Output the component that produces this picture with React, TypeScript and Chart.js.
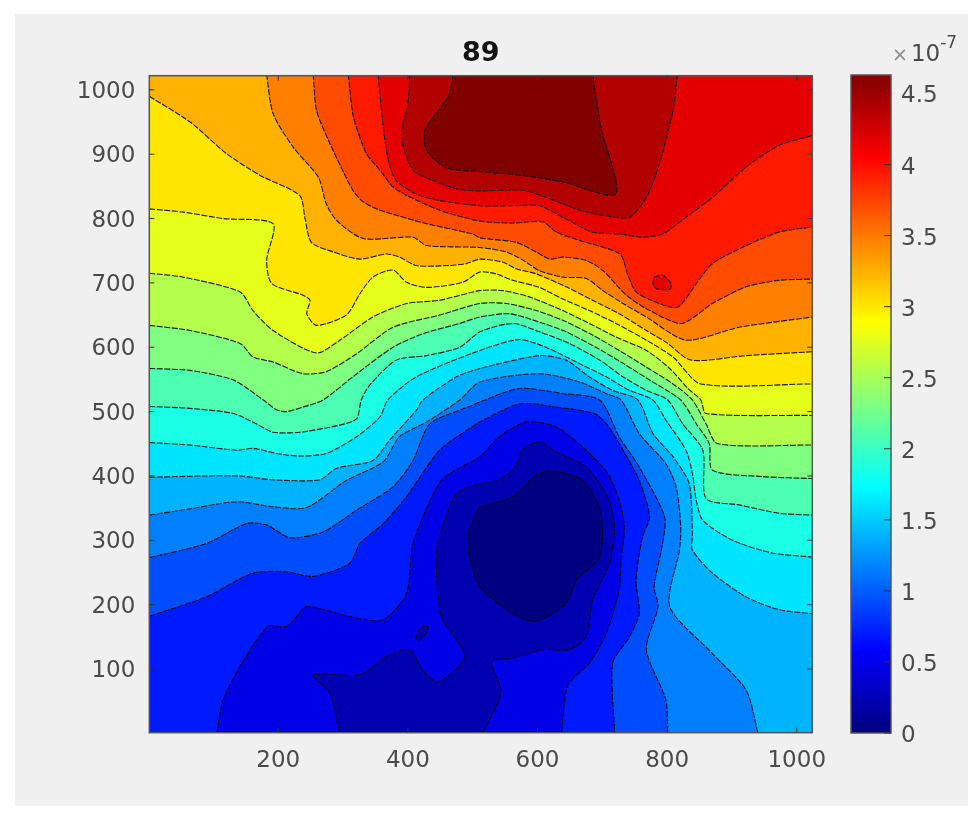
import React, { useEffect, useRef } from "react";
import { Chart, registerables } from "chart.js";

Chart.register(...registerables);

type Pt = [number, number];

const titleText = "89";
const xTicks = [200, 400, 600, 800, 1000];
const yTicks = [100, 200, 300, 400, 500, 600, 700, 800, 900, 1000];
const colorTicks = [0, 0.5, 1, 1.5, 2, 2.5, 3, 3.5, 4, 4.5];
const colorMax = 4.63;
const xRange: Pt = [1, 1024];
const yRange: Pt = [1, 1022];
const bandCount = 20;

const c1: Pt[] = [[511, 352], [493, 311], [495, 274], [511, 228], [562, 186], [598, 174], [644, 202], [660, 238], [696, 274], [698, 342], [670, 393], [624, 408], [598, 401], [562, 368], [511, 352]];
const c2: Pt[] = [[295, 1], [280, 62], [254, 91], [326, 91], [367, 119], [403, 130], [423, 98], [446, 80], [488, 119], [452, 181], [444, 249], [446, 295], [475, 373], [511, 388], [536, 393], [562, 409], [577, 440], [603, 453], [629, 437], [675, 414], [708, 368], [719, 321], [711, 264], [685, 207], [675, 150], [649, 130], [608, 130], [562, 117], [529, 111], [544, 65], [516, 1]];
const c2Island: Pt[] = [[431, 166], [421, 166], [412, 148], [418, 145], [430, 158], [431, 166]];
const c3: Pt[] = [[105, 1], [115, 52], [141, 104], [184, 166], [213, 166], [228, 181], [244, 197], [321, 179], [362, 176], [398, 217], [408, 295], [452, 393], [511, 430], [541, 461], [583, 484], [629, 476], [675, 440], [708, 404], [726, 362], [734, 321], [729, 269], [726, 223], [706, 155], [680, 109], [647, 75], [637, 1]];
const c4: Pt[] = [[1, 182], [89, 212], [161, 249], [213, 251], [254, 244], [310, 264], [326, 295], [362, 326], [398, 368], [449, 440], [506, 481], [511, 484], [572, 512], [629, 507], [688, 497], [708, 479], [732, 440], [757, 393], [773, 337], [762, 305], [752, 238], [757, 186], [742, 150], [716, 109], [719, 1]];
const c5: Pt[] = [[1, 273], [89, 295], [151, 326], [182, 324], [218, 304], [269, 313], [321, 347], [377, 383], [408, 424], [434, 481], [500, 510], [511, 515], [572, 536], [639, 528], [696, 518], [726, 461], [757, 414], [796, 337], [793, 295], [780, 228], [786, 197], [768, 130], [798, 52], [801, 1]];
const c6: Pt[] = [[1, 339], [64, 349], [136, 360], [192, 352], [244, 351], [305, 393], [362, 422], [387, 461], [429, 484], [480, 518], [511, 546], [603, 559], [665, 546], [706, 528], [729, 518], [757, 466], [798, 419], [814, 383], [821, 321], [819, 285], [804, 197], [870, 124], [922, 67], [940, 1]];
const c7: Pt[] = [[1, 398], [89, 400], [141, 400], [192, 394], [264, 394], [290, 412], [346, 424], [372, 456], [413, 502], [423, 518], [475, 554], [511, 567], [603, 587], [644, 580], [680, 554], [716, 533], [755, 518], [778, 466], [809, 430], [834, 388], [839, 311], [839, 285], [870, 249], [922, 212], [973, 192], [1024, 186]];
const c8: Pt[] = [[1, 452], [64, 448], [136, 440], [161, 443], [197, 435], [233, 431], [274, 435], [321, 461], [357, 492], [369, 518], [413, 554], [511, 595], [572, 612], [613, 600], [660, 577], [706, 554], [742, 533], [778, 518], [798, 487], [829, 440], [839, 404], [845, 362], [855, 331], [901, 300], [963, 280], [1024, 274]];
const c9: Pt[] = [[1, 508], [64, 505], [131, 497], [166, 481], [192, 468], [233, 468], [295, 479], [321, 489], [328, 518], [341, 541], [382, 580], [429, 587], [480, 600], [511, 624], [562, 637], [603, 624], [649, 606], [696, 580], [732, 554], [768, 533], [801, 518], [824, 481], [855, 440], [860, 365], [911, 355], [973, 342], [1024, 339]];
const c10: Pt[] = [[1, 567], [64, 564], [131, 549], [177, 518], [197, 503], [213, 500], [238, 507], [269, 518], [315, 554], [377, 600], [423, 621], [480, 637], [511, 647], [557, 652], [603, 639], [644, 624], [690, 600], [732, 575], [773, 549], [821, 518], [845, 481], [865, 450], [870, 409], [947, 399], [1024, 396]];
const c11: Pt[] = [[1, 634], [64, 626], [141, 606], [161, 585], [192, 577], [238, 559], [274, 562], [321, 590], [377, 631], [449, 650], [511, 668], [552, 668], [598, 657], [639, 642], [685, 619], [726, 595], [768, 569], [809, 543], [839, 518], [860, 481], [878, 450], [1024, 448]];
const c12: Pt[] = [[1, 715], [53, 709], [141, 686], [161, 657], [192, 626], [259, 591], [295, 611], [346, 647], [398, 668], [449, 673], [511, 688], [547, 688], [588, 678], [639, 657], [680, 637], [721, 616], [768, 595], [804, 567], [832, 536], [852, 518], [860, 497], [1024, 494]];
const c13: Pt[] = [[1, 815], [53, 810], [115, 800], [192, 792], [182, 735], [190, 699], [238, 681], [249, 673], [244, 652], [259, 634], [305, 650], [326, 683], [346, 709], [377, 720], [398, 701], [429, 693], [485, 701], [511, 717], [536, 714], [562, 704], [603, 693], [639, 675], [680, 657], [721, 637], [768, 611], [809, 585], [852, 543], [1024, 543]];
const c14: Pt[] = [[1, 990], [64, 950], [120, 901], [172, 867], [233, 836], [241, 802], [251, 763], [285, 748], [326, 737], [367, 745], [387, 740], [413, 727], [464, 727], [490, 730], [511, 737], [547, 732], [567, 722], [598, 714], [644, 694], [685, 673], [726, 652], [768, 626], [798, 608], [837, 580], [922, 587], [1024, 593]];
const c15: Pt[] = [[182, 1024], [192, 963], [223, 911], [262, 864], [274, 823], [290, 797], [331, 769], [408, 771], [429, 758], [511, 755], [552, 748], [578, 735], [603, 719], [639, 709], [675, 707], [701, 688], [732, 668], [768, 647], [829, 611], [911, 631], [1024, 647]];
const c16: Pt[] = [[254, 1024], [259, 968], [280, 916], [315, 844], [331, 826], [357, 813], [429, 792], [500, 776], [511, 770], [567, 763], [598, 748], [619, 737], [639, 740], [675, 735], [701, 719], [737, 681], [768, 660], [822, 637], [870, 668], [922, 694], [973, 704], [1024, 706]];
const c17: Pt[] = [[308, 1024], [316, 958], [336, 901], [357, 875], [377, 849], [398, 836], [449, 813], [511, 796], [562, 793], [608, 795], [629, 779], [665, 766], [727, 745], [739, 714], [752, 686], [783, 670], [816, 662], [845, 699], [870, 730], [922, 758], [973, 779], [1024, 787]];
const c18: Pt[] = [[354, 1024], [362, 942], [370, 890], [382, 859], [413, 838], [449, 828], [511, 820], [562, 820], [603, 820], [639, 802], [685, 779], [727, 776], [762, 771], [793, 776], [829, 802], [870, 833], [922, 880], [973, 914], [1024, 929]];
const c18Island: Pt[] = [[780, 709], [793, 712], [806, 699], [804, 690], [783, 691], [778, 699], [780, 709]];
const c19: Pt[] = [[403, 1024], [400, 978], [390, 937], [393, 911], [408, 875], [439, 859], [475, 846], [511, 843], [578, 844], [613, 833], [665, 813], [701, 805], [742, 802], [768, 833], [788, 885], [809, 968], [816, 1024]];
const c20: Pt[] = [[470, 1024], [462, 989], [426, 937], [429, 906], [459, 879], [511, 873], [578, 867], [639, 857], [721, 838], [698, 942], [685, 1024]];

const [xMin, xMax] = xRange;
const [yMin, yMax] = yRange;
const topRight: Pt = [xMax, yMax + 5];
const topLeft: Pt = [xMin, yMax + 5];
const bottomRight: Pt = [xMax, yMin];

// Painter's order: highs over the base band, then the nested lows.
const layers: { line: Pt[]; band: number; corners: Pt[] }[] = [
  { line: c4, band: 4, corners: [bottomRight, topRight, topLeft] },
  { line: c5, band: 5, corners: [bottomRight, topRight, topLeft] },
  { line: c6, band: 6, corners: [bottomRight, topRight, topLeft] },
  { line: c7, band: 7, corners: [topRight, topLeft] },
  { line: c8, band: 8, corners: [topRight, topLeft] },
  { line: c9, band: 9, corners: [topRight, topLeft] },
  { line: c10, band: 10, corners: [topRight, topLeft] },
  { line: c11, band: 11, corners: [topRight, topLeft] },
  { line: c12, band: 12, corners: [topRight, topLeft] },
  { line: c13, band: 13, corners: [topRight, topLeft] },
  { line: c14, band: 14, corners: [topRight, topLeft] },
  { line: c15, band: 15, corners: [topRight] },
  { line: c16, band: 16, corners: [topRight] },
  { line: c17, band: 17, corners: [topRight] },
  { line: c18, band: 18, corners: [topRight] },
  { line: c18Island, band: 18, corners: [] },
  { line: c19, band: 19, corners: [] },
  { line: c20, band: 20, corners: [] },
  { line: c3, band: 2, corners: [] },
  { line: c2, band: 1, corners: [] },
  { line: c2Island, band: 1, corners: [] },
  { line: c1, band: 0, corners: [] },
];
const baseBand = 3;

function jetChannel(t: number, centre: number) {
  const v = 1.5 - Math.abs(4 * t - centre);
  return Math.round(255 * Math.max(0, Math.min(1, v)));
}
function jet(t: number) {
  return `rgb(${jetChannel(t, 3)},${jetChannel(t, 2)},${jetChannel(t, 1)})`;
}

const FONT = "'DejaVu Sans'";
const TEXT = "#4a4a4a";
const FRAME = "#565656";
const TICK_FONT = 23;

function nudgeLabels(s: any, dy: number) {
  if (s.__nudged) return;
  s.__nudged = true;
  const draw = s.drawLabels.bind(s);
  s.drawLabels = (area: any) => {
    s.ctx.save();
    s.ctx.translate(0, dy);
    draw(area);
    s.ctx.restore();
  };
}

const contourFill = {
  id: "contourFill",
  beforeDatasetsDraw(chart: any) {
    const { ctx, chartArea: a } = chart;
    ctx.save();
    ctx.fillStyle = jet(baseBand / bandCount);
    ctx.fillRect(a.left, a.top, a.right - a.left, a.bottom - a.top);
    ctx.restore();
  },
  beforeDatasetDraw(chart: any, args: any) {
    const { ctx, chartArea: a, scales } = chart;
    const ds = chart.data.datasets[args.index];
    const pts = args.meta.data;
    ctx.save();
    ctx.beginPath();
    ctx.rect(a.left, a.top, a.right - a.left, a.bottom - a.top);
    ctx.clip();
    ctx.beginPath();
    pts.forEach((p: any, i: number) => {
      if (!i) ctx.moveTo(p.x, p.y);
      else {
        const q = pts[i - 1];
        ctx.bezierCurveTo(q.cp2x, q.cp2y, p.cp1x, p.cp1y, p.x, p.y);
      }
    });
    ds.corners.forEach((c: Pt) => ctx.lineTo(scales.x.getPixelForValue(c[0]), scales.y.getPixelForValue(c[1])));
    ctx.closePath();
    ctx.fillStyle = ds.fillColor;
    ctx.fill();
    ctx.restore();
  },
};

const plotFrame = {
  id: "plotFrame",
  afterDatasetsDraw(chart: any) {
    const { ctx, chartArea: a, scales } = chart;
    ctx.save();
    ctx.strokeStyle = FRAME;
    ctx.lineWidth = 1.5;
    ctx.strokeRect(a.left, a.top, a.right - a.left, a.bottom - a.top);
    ctx.lineWidth = 1;
    ctx.strokeStyle = "#333";
    ctx.beginPath();
    const len = 5;
    xTicks.forEach((v) => {
      const x = scales.x.getPixelForValue(v);
      ctx.moveTo(x, a.bottom);
      ctx.lineTo(x, a.bottom - len);
      ctx.moveTo(x, a.top);
      ctx.lineTo(x, a.top + len);
    });
    yTicks.forEach((v) => {
      const y = scales.y.getPixelForValue(v);
      ctx.moveTo(a.left, y);
      ctx.lineTo(a.left + len, y);
      ctx.moveTo(a.right, y);
      ctx.lineTo(a.right - len, y);
    });
    ctx.stroke();
    ctx.restore();
  },
};

const colorFrame = {
  id: "colorFrame",
  afterDatasetsDraw(chart: any) {
    const { ctx, chartArea: a, scales } = chart;
    ctx.save();
    ctx.strokeStyle = FRAME;
    ctx.lineWidth = 1.5;
    ctx.strokeRect(a.left, a.top, a.right - a.left, a.bottom - a.top);
    ctx.lineWidth = 1;
    ctx.strokeStyle = "#333";
    ctx.beginPath();
    colorTicks.forEach((v) => {
      const y = scales.y.getPixelForValue(v);
      ctx.moveTo(a.right, y);
      ctx.lineTo(a.right - 7, y);
    });
    ctx.stroke();
    ctx.restore();
  },
};

export default function App() {
  const mainRef = useRef<HTMLCanvasElement>(null);
  const barRef = useRef<HTMLCanvasElement>(null);

  useEffect(() => {
    const main = new Chart(mainRef.current!, {
      type: "scatter",
      data: {
        datasets: layers.map((l, i) => ({
          label: `band ${l.band}`,
          data: l.line.map(([x, y]) => ({ x, y })),
          showLine: true,
          tension: 0.25,
          pointRadius: 0,
          borderColor: "rgba(0,0,0,0.9)",
          borderWidth: 1.1,
          borderDash: [6, 1.5],
          fill: false,
          order: layers.length - i,
          fillColor: jet(l.band / bandCount),
          corners: l.corners,
        })) as any,
      },
      options: {
        animation: false,
        responsive: false,
        events: [],
        layout: { padding: { left: 69.3, right: 159.7, top: 40, bottom: 41.3 } },
        plugins: {
          legend: { display: false },
          tooltip: { enabled: false },
          title: {
            display: true,
            text: titleText,
            fullSize: false,
            color: "#141414",
            font: { family: FONT, size: 27, weight: "bold", lineHeight: 1 },
            padding: { top: 0, bottom: 8.7 },
          },
        },
        scales: {
          x: {
            type: "linear",
            min: xMin,
            max: xMax,
            grid: { display: false },
            border: { display: false },
            afterBuildTicks: (s: any) => {
              s.ticks = xTicks.map((value) => ({ value }));
            },
            afterFit: (s: any) => {
              s.height = 50;
            },
            ticks: { color: TEXT, font: { family: FONT, size: TICK_FONT }, padding: 7, maxRotation: 0, autoSkip: false, callback: (v: any) => String(v) },
          },
          y: {
            type: "linear",
            min: yMin,
            max: yMax,
            grid: { display: false },
            border: { display: false },
            afterBuildTicks: (s: any) => {
              s.ticks = yTicks.map((value) => ({ value }));
            },
            afterFit: (s: any) => {
              s.width = 80;
              nudgeLabels(s, 2);
            },
            ticks: { color: TEXT, font: { family: FONT, size: TICK_FONT }, padding: 6, autoSkip: false, callback: (v: any) => String(v) },
          },
        },
      },
      plugins: [contourFill, plotFrame],
    } as any);

    const bar = new Chart(barRef.current!, {
      type: "bar",
      data: {
        labels: ["colorbar"],
        datasets: [
          {
            data: [[0, colorMax]],
            categoryPercentage: 1,
            barPercentage: 1,
            borderWidth: 0,
            backgroundColor: (c: any) => {
              const { ctx, chartArea: a } = c.chart;
              if (!a) return "#000";
              const g = ctx.createLinearGradient(0, a.bottom, 0, a.top);
              for (let i = 0; i <= 32; i++) g.addColorStop(i / 32, jet(i / 32));
              return g;
            },
          },
        ],
      } as any,
      options: {
        animation: false,
        responsive: false,
        events: [],
        layout: { padding: { left: 851, right: 0, top: 75, bottom: 91 } },
        plugins: { legend: { display: false }, tooltip: { enabled: false } },
        scales: {
          x: { display: false },
          y: {
            position: "right",
            min: 0,
            max: colorMax,
            grid: { display: false },
            border: { display: false },
            afterBuildTicks: (s: any) => {
              s.ticks = colorTicks.map((value) => ({ value }));
            },
            afterFit: (s: any) => {
              s.width = 81;
              nudgeLabels(s, 3);
            },
            ticks: { color: TEXT, font: { family: FONT, size: TICK_FONT }, padding: 2, autoSkip: false, callback: (v: any) => String(v) },
          },
        },
      },
      plugins: [colorFrame],
    } as any);

    return () => {
      main.destroy();
      bar.destroy();
    };
  }, []);

  const layer: React.CSSProperties = { position: "absolute", left: 0, top: 0 };
  return (
    <div style={{ position: "absolute", left: 0, top: 0, width: 972, height: 824, background: "#fff", overflow: "hidden" }}>
      <div style={{ position: "absolute", left: 15, top: 14, width: 953, height: 792, background: "#f0f0f0" }} />
      <div style={{ ...layer, width: 972, height: 824, filter: "blur(0.6px)" }}>
        <canvas ref={mainRef} width={972} height={824} style={layer} />
        <canvas ref={barRef} width={972} height={824} style={layer} />
        <div style={{ position: "absolute", left: 892, top: 40, fontFamily: FONT, color: TEXT, whiteSpace: "nowrap", lineHeight: "26px" }}>
          <span style={{ fontSize: 19, color: "#8a8a8a" }}>×</span>
          <span style={{ fontSize: 23, marginLeft: 3 }}>10</span>
          <span style={{ fontSize: 17, position: "relative", top: -13 }}>-7</span>
        </div>
      </div>
    </div>
  );
}
